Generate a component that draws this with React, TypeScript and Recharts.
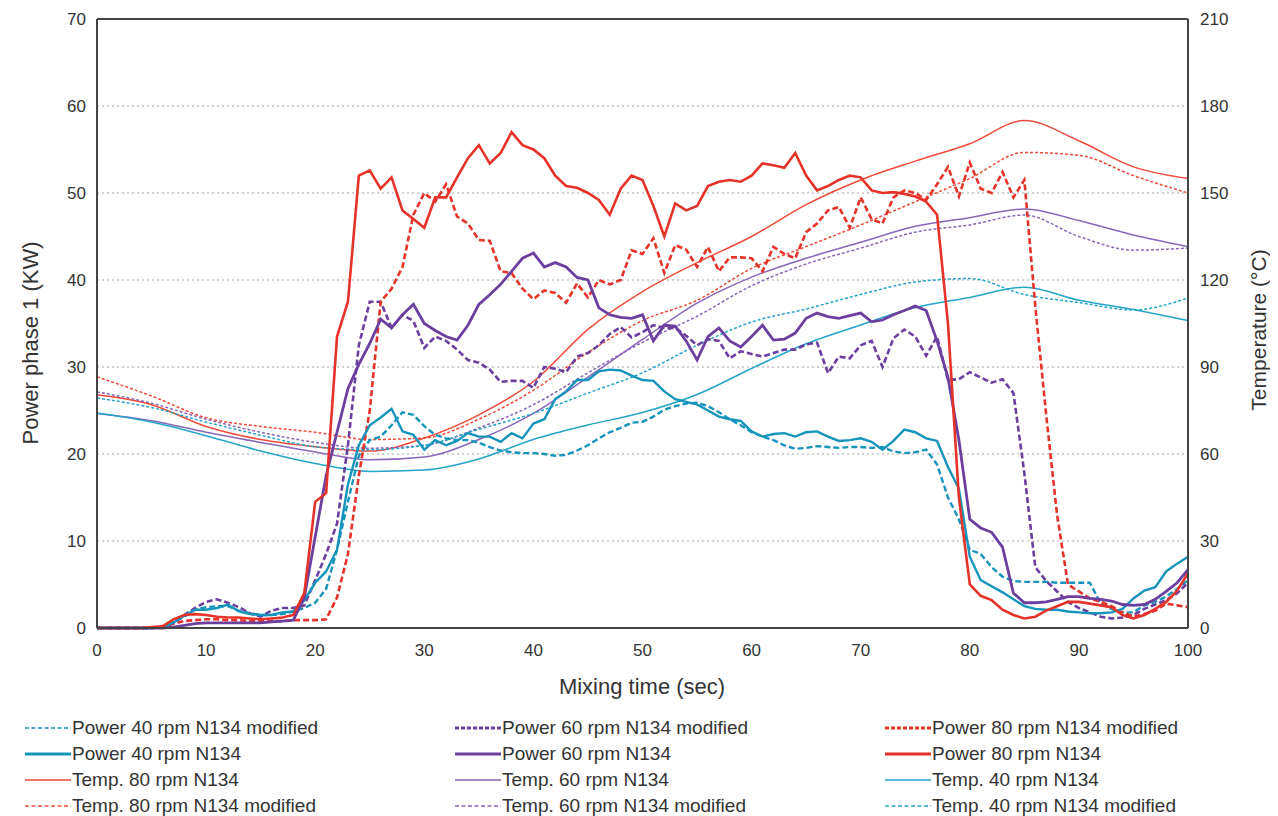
import React from 'react';
import { LineChart, Line, XAxis, YAxis, CartesianGrid, ReferenceLine, Legend } from 'recharts';

// ---- categories ----
const seconds: number[] = Array.from({ length: 101 }, (_, i) => i);
const tempTimes = [0, 5, 10, 15, 20, 25, 30, 35, 40, 45, 50, 55, 60, 65, 70, 75, 80, 85, 90, 95, 100];
const xTicks = [0, 10, 20, 30, 40, 50, 60, 70, 80, 90, 100];
const powerTicks = [0, 10, 20, 30, 40, 50, 60, 70];
const tempTicks = [0, 30, 60, 90, 120, 150, 180, 210];

// ---- power (kW), one value per second ----
const power80 = [
  0, 0, 0, 0, 0, 0.1, 0.2, 1.0, 1.5, 1.6,
  1.5, 1.3, 1.2, 1.2, 1.1, 1.0, 1.1, 1.2, 1.5, 4,
  14.5, 15.5, 33.5, 37.5, 52, 52.6, 50.5, 51.8, 48, 47,
  46, 49.5, 49.5, 51.8, 54, 55.5, 53.4, 54.6, 57, 55.5,
  55, 54, 52, 50.8, 50.6, 50, 49.2, 47.5, 50.5, 52,
  51.5, 48.5, 45, 48.8, 48, 48.5, 50.8, 51.3, 51.5, 51.3,
  52, 53.4, 53.2, 52.9, 54.6, 52, 50.3, 50.8, 51.5, 52,
  51.8, 50.3, 50, 50.1, 49.9, 49.6, 49, 47.5, 35, 15,
  5, 3.7, 3.2, 2.1, 1.5, 1.1, 1.3, 2, 2.5, 3,
  3, 2.8, 2.6, 2.4, 1.5, 1.1, 1.5, 2.2, 3, 4.3,
  6.3,
];
const power80Mod = [
  0, 0, 0, 0, 0, 0, 0.2, 0.5, 0.8, 0.9,
  1.0, 1.0, 0.9, 0.9, 0.8, 0.8, 0.8, 0.8, 0.9, 0.9,
  0.9, 1.0, 3.5, 8.5, 17.5, 25, 37.5, 39, 41.5, 47.5,
  50, 49, 51, 47.3, 46.5, 44.6, 44.5, 41, 40.8, 39,
  37.8, 38.8, 38.5, 37.4, 39.6, 38, 40, 39.5, 40, 43.4,
  43, 44.8, 40.8, 44, 43.5, 41.5, 43.8, 41, 42.6, 42.6,
  42.5, 41, 43.8, 43, 42.5, 45.5, 46.5, 48, 48.4, 46,
  49.5, 47, 46.5, 49.5, 50.3, 50, 49.2, 51, 53, 49.6,
  53.5, 50.5, 50, 52.4, 49.5, 51.5, 37, 24.5, 13, 5,
  4.2, 3.4, 3, 2.5, 1.8, 1.3, 1.6, 2, 2.8, 2.6,
  2.4,
];
const power60 = [
  0, 0, 0, 0, 0, 0, 0, 0.1, 0.3, 0.5,
  0.6, 0.6, 0.6, 0.6, 0.6, 0.6, 0.7, 0.8, 0.9, 3.5,
  10.5, 17.5, 22.5, 27.5, 30.3, 32.7, 35.5, 34.5, 36, 37.2,
  35, 34.2, 33.5, 33.1, 34.8, 37.2, 38.3, 39.5, 41, 42.5,
  43.1, 41.5, 42, 41.5, 40.3, 40, 36.8, 36, 35.7, 35.6,
  36, 33, 34.8, 34.7, 33, 30.8, 33.5, 34.5, 33, 32.3,
  33.5, 34.8, 33.1, 33.2, 33.9, 35.6, 36.2, 35.8, 35.6, 35.9,
  36.2, 35.2, 35.4, 36, 36.5, 37, 36.5, 33, 28.8, 21.6,
  12.5, 11.5, 11, 9.3, 4, 2.9, 2.9, 3, 3.3, 3.6,
  3.6, 3.4, 3.3, 3.1, 2.7, 2.6, 2.7, 3.3, 4.2, 5.2,
  6.7,
];
const power60Mod = [
  0, 0, 0, 0, 0, 0, 0.1, 0.5, 1.5, 2.3,
  3, 3.3, 2.9, 2.4, 1.7, 1.3, 2, 2.3, 2.3, 2.6,
  5.5, 8.5, 12, 21, 32.5, 37.5, 37.5, 34.5, 36, 35.3,
  32.2, 33.5, 33, 32, 30.8, 30.5, 29.7, 28.3, 28.4, 28.4,
  27.6, 30, 29.8, 29.4, 31.2, 31.6, 32.5, 33.8, 34.6, 33.4,
  34, 34.8, 34.5, 34.5, 33.6, 32.5, 33.2, 33, 31, 31.8,
  31.5, 31.2, 31.6, 32, 32, 32.6, 32.8, 29.3, 31.2, 31,
  32.5, 33, 30, 33.3, 34.3, 33.5, 31.3, 33.5, 28.5, 28.6,
  29.4, 28.8, 28.2, 28.6, 27, 17.8, 7, 5.4, 4.2, 3,
  2.3, 1.8, 1.3, 1.1, 1.2, 1.5, 2.2, 2.7, 3.2, 4,
  5.2,
];
const power40 = [
  0, 0, 0, 0, 0, 0, 0.1, 0.6, 1.4, 2.1,
  2.1, 2.3, 2.7, 1.9, 1.6, 1.5, 1.5, 1.8, 1.9, 3.2,
  5.2, 6.5, 9, 16.5, 21, 23.3, 24.2, 25.2, 22.6, 22.2,
  20.5, 21.6, 21, 21.5, 22.4, 22, 22, 21.4, 22.4, 21.8,
  23.5, 24, 26.3, 27.2, 28.5, 28.5, 29.5, 29.7, 29.6, 29,
  28.5, 28.4, 27.2, 26.3, 26, 25.7, 25, 24.3, 24, 23.8,
  22.6, 22, 22.3, 22.4, 22, 22.5, 22.6, 22, 21.5, 21.6,
  21.8, 21.4, 20.5, 21.5, 22.8, 22.5, 21.8, 21.5, 18.5, 16,
  8.2, 5.5, 4.8, 4.1, 3.3, 2.5, 2.2, 2.1, 2.1, 1.9,
  1.8, 1.7, 1.7, 1.8, 2.2, 3.4, 4.3, 4.7, 6.5, 7.4,
  8.2,
];
const power40Mod = [
  0, 0, 0, 0, 0, 0, 0.1, 0.7, 1.3, 2.1,
  2.4, 2.5, 2.5, 2, 1.7, 1.5, 1.5, 1.6, 1.9, 2.3,
  2.9, 4.5, 9, 14.5, 19.8, 21.6, 22, 23.3, 24.8, 24.5,
  23.2, 22.2, 21.8, 21.6, 21.6, 21.3, 20.8, 20.4, 20.2, 20.1,
  20.1, 20, 19.8, 19.9, 20.4, 21, 21.8, 22.5, 23, 23.6,
  23.7, 24.3, 25.1, 25.5, 25.8, 25.9, 25.5, 24.8, 24, 23.3,
  22.5, 22, 21.6, 21, 20.6, 20.7, 20.9, 20.8, 20.7, 20.8,
  20.8, 20.7, 20.8, 20.3, 20.1, 20.2, 20.5, 18.8, 15, 12.5,
  9, 8.5, 7, 5.9, 5.4, 5.3, 5.3, 5.3, 5.2, 5.2,
  5.2, 5.2, 2.8, 2.2, 1.8, 1.8, 2.6, 3, 3.6, 4.5,
  5.5,
];

// ---- temperatures (°C), every 5 s ----
const temp80 = [80.4, 77, 69.5, 65, 62.5, 61, 65.5, 73.5, 85, 103, 116, 126, 135, 146, 154.5, 161, 167, 175, 168, 159, 155];
const temp80Mod = [86.6, 80, 72.5, 69.5, 67.5, 65, 65.5, 72, 82, 95, 106, 113, 124, 131.5, 139, 147, 155, 164, 163, 156, 150];
const temp60 = [74, 71.5, 67.5, 64, 60.7, 58, 59, 65, 74, 86.5, 99.5, 112, 121, 127.5, 133, 138.5, 141.5, 144.5, 140.5, 135.5, 131.5];
const temp60Mod = [81.4, 77.5, 72, 67.5, 64, 62, 63, 69, 77, 88, 98.5, 107.5, 118, 125.5, 131, 136.5, 139, 142.4, 135, 130.3, 131];
const temp40 = [74.1, 71, 66.3, 61, 56.7, 54, 54.5, 58.3, 65, 70, 74.3, 80.5, 89.5, 98, 104.5, 110.5, 114, 117.5, 113, 109.8, 106];
const temp40Mod = [79.3, 76, 71, 66.5, 62.5, 61.5, 63, 68.5, 74, 81, 88, 97.5, 105.5, 110, 115, 119.3, 120.5, 115, 112.2, 109.7, 113.8];

const RED = '#e6332a';
const RED_T = '#ef4b3a';
const PUR = '#6b3f9e';
const PUR_T = '#8a66b8';
const BLU = '#1694bb';
const BLU_T = '#25a3c8';

type S = { key: string; name: string; color: string; width: number; dash?: string; axis: 'left' | 'right'; values: number[] };

const series: S[] = [
  { key: 'p40m', name: 'Power 40 rpm N134 modified', color: BLU, width: 2.4, dash: '6 3', axis: 'left', values: power40Mod },
  { key: 'p60m', name: 'Power 60 rpm N134 modified', color: PUR, width: 2.6, dash: '6 3', axis: 'left', values: power60Mod },
  { key: 'p80m', name: 'Power 80 rpm N134 modified', color: RED, width: 2.6, dash: '6 3', axis: 'left', values: power80Mod },
  { key: 'p40', name: 'Power 40 rpm N134', color: BLU, width: 2.4, axis: 'left', values: power40 },
  { key: 'p60', name: 'Power 60 rpm N134', color: PUR, width: 2.8, axis: 'left', values: power60 },
  { key: 'p80', name: 'Power 80 rpm N134', color: RED, width: 2.6, axis: 'left', values: power80 },
  { key: 't80', name: 'Temp. 80 rpm N134', color: RED_T, width: 1.5, axis: 'right', values: temp80 },
  { key: 't60', name: 'Temp. 60 rpm N134', color: PUR_T, width: 1.5, axis: 'right', values: temp60 },
  { key: 't40', name: 'Temp. 40 rpm N134', color: BLU_T, width: 1.5, axis: 'right', values: temp40 },
  { key: 't80m', name: 'Temp. 80 rpm N134 modified', color: RED_T, width: 1.5, dash: '3 2', axis: 'right', values: temp80Mod },
  { key: 't60m', name: 'Temp. 60 rpm N134 modified', color: PUR_T, width: 1.5, dash: '3 2', axis: 'right', values: temp60Mod },
  { key: 't40m', name: 'Temp. 40 rpm N134 modified', color: BLU_T, width: 1.5, dash: '3 2', axis: 'right', values: temp40Mod },
];

const rows = seconds.map((t, i) => {
  const r: Record<string, number | undefined> = { t };
  series.forEach((s) => {
    if (s.axis === 'left') r[s.key] = s.values[i];
    else {
      const k = tempTimes.indexOf(t);
      r[s.key] = k >= 0 ? s.values[k] : undefined;
    }
  });
  return r;
});

const FONT = '"Liberation Sans", Arial, sans-serif';
const TXT = '#333';
const W = 1262;
const H = 808;

const LegendGrid = () => {
  const colLeft = [17, 447, 877];
  return (
    <div style={{ position: 'relative', width: W, height: 100, fontFamily: FONT }}>
      {series.map((s, idx) => {
        const row = Math.floor(idx / 3);
        const col = idx % 3;
        const thin = s.axis === 'right' || s.key === 'p40m';
        return (
          <div
            key={s.key}
            style={{
              position: 'absolute',
              left: colLeft[col],
              top: 12 + row * 26 - 11,
              height: 22,
              display: 'flex',
              alignItems: 'center',
              whiteSpace: 'nowrap',
            }}
          >
            <svg width={46} height={10} style={{ display: 'block' }}>
              <line
                x1={0}
                y1={5}
                x2={46}
                y2={5}
                stroke={s.color}
                strokeWidth={thin ? 1.6 : 3.2}
                strokeDasharray={s.dash ? (thin ? '4 2.5' : '4 2') : undefined}
              />
            </svg>
            <span style={{ fontSize: 19, color: TXT, marginLeft: 1 }}>{s.name}</span>
          </div>
        );
      })}
    </div>
  );
};

const VTitle = (props: any) => {
  const { cx, cy, text, size } = props;
  return (
    <text x={cx} y={cy} transform={`rotate(-90, ${cx}, ${cy})`} textAnchor="middle" dominantBaseline="central" fontSize={size} fill={TXT} fontFamily={FONT}>
      {text}
    </text>
  );
};
const HTitle = (props: any) => {
  const { cx, cy, text } = props;
  return (
    <text x={cx} y={cy} textAnchor="middle" dominantBaseline="central" fontSize={22} fill={TXT} fontFamily={FONT}>
      {text}
    </text>
  );
};

const tickStyle = { fontSize: 17, fill: TXT, fontFamily: FONT };

export default function App() {
  return (
    <LineChart width={W} height={H} data={rows} margin={{ top: 11, right: 0, bottom: 0, left: 0 }}>
      <CartesianGrid yAxisId="left" vertical={false} stroke="#c4c4c4" strokeDasharray="2 3" strokeWidth={1.5} />
      <XAxis
        dataKey="t"
        type="number"
        domain={[0, 100]}
        ticks={xTicks}
        tickLine={false}
        tickMargin={10}
        height={88}
        axisLine={{ stroke: '#444', strokeWidth: 2 }}
        tick={tickStyle}
        label={<HTitle cx={634} cy={678} text="Mixing time (sec)" />}
      />
      <YAxis
        yAxisId="left"
        domain={[0, 70]}
        ticks={powerTicks}
        tickLine={false}
        tickMargin={5}
        width={89}
        axisLine={{ stroke: '#444', strokeWidth: 2 }}
        tick={tickStyle}
        label={<VTitle cx={22} cy={335} size={22} text="Power phase 1 (KW)" />}
      />
      <YAxis
        yAxisId="right"
        orientation="right"
        domain={[0, 210]}
        ticks={tempTicks}
        tickLine={false}
        tickMargin={6}
        width={82}
        axisLine={{ stroke: '#444', strokeWidth: 2 }}
        tick={tickStyle}
        label={<VTitle cx={1250} cy={322} size={21} text="Temperature (°C)" />}
      />
      <ReferenceLine yAxisId="left" y={70} stroke="#444" strokeWidth={2} />
      <Legend
        verticalAlign="bottom"
        content={() => <LegendGrid />}
        wrapperStyle={{ left: 0, bottom: 0, width: W, height: 100 }}
      />
      {series
        .slice()
        .sort((a, b) => (a.axis === b.axis ? 0 : a.axis === 'right' ? -1 : 1))
        .map((s) => (
          <Line
            key={s.key}
            yAxisId={s.axis}
            dataKey={s.key}
            name={s.name}
            type={s.axis === 'right' ? 'monotone' : 'linear'}
            stroke={s.color}
            strokeWidth={s.width}
            strokeDasharray={s.dash}
            dot={false}
            activeDot={false}
            connectNulls
            isAnimationActive={false}
          />
        ))}
    </LineChart>
  );
}
